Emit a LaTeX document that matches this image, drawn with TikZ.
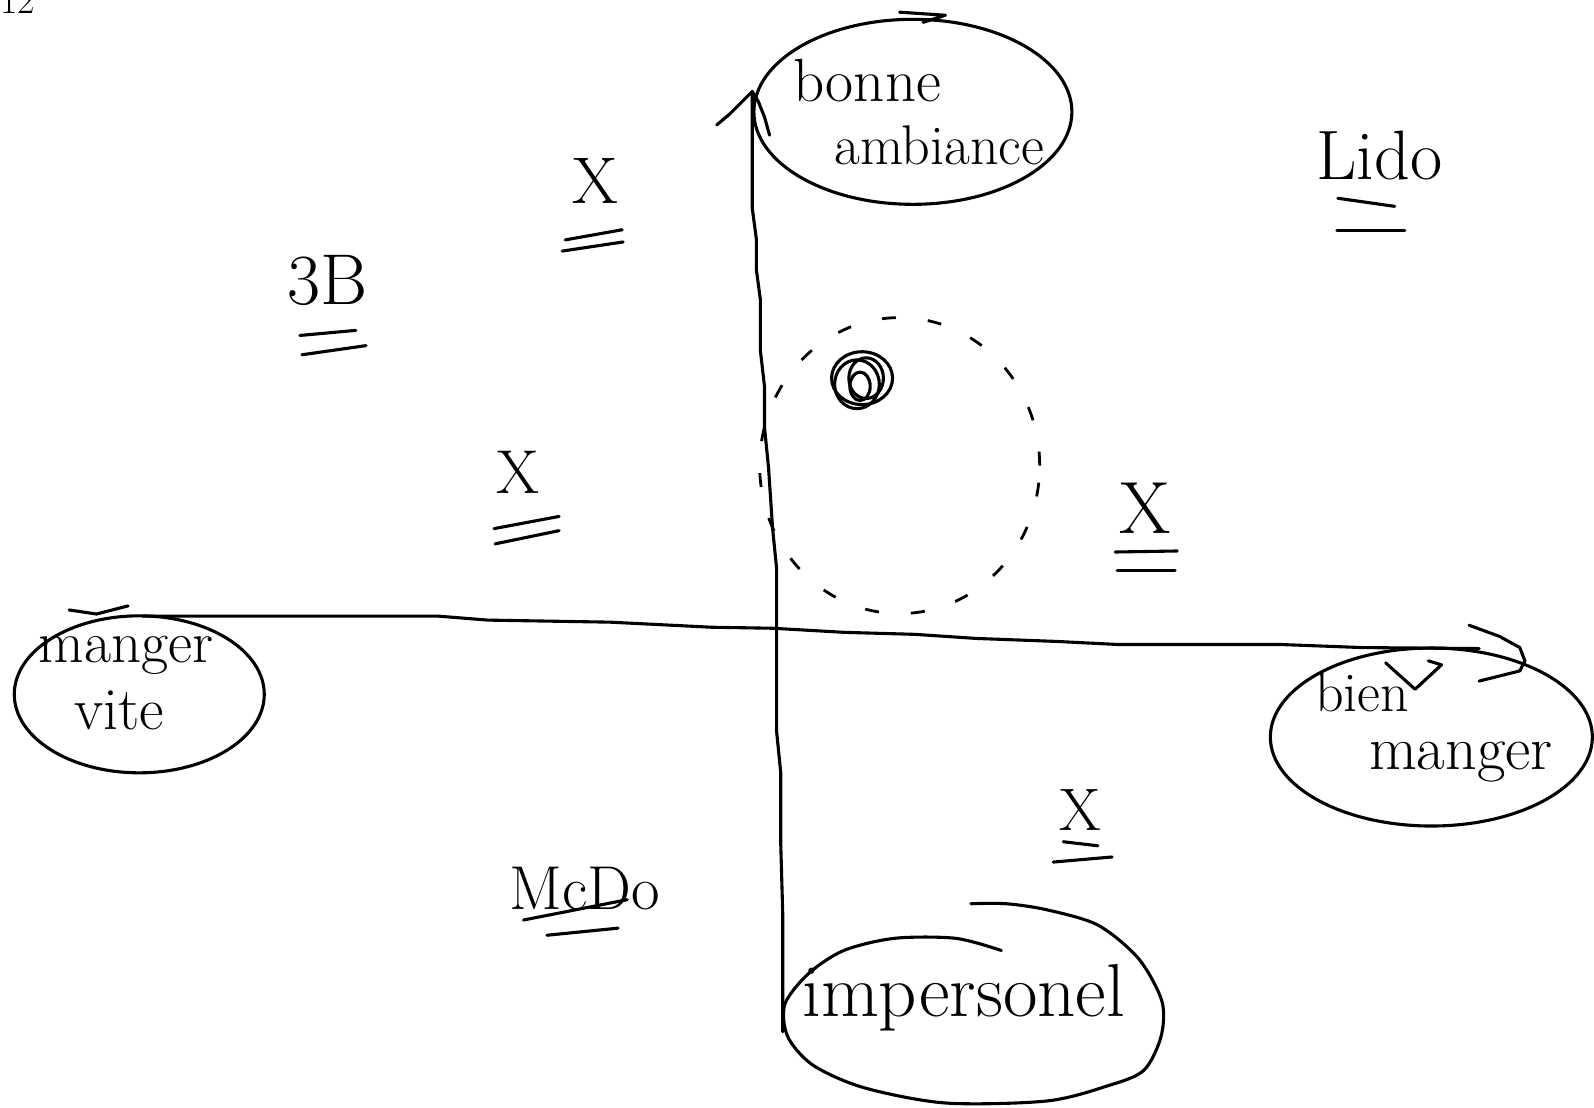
\documentclass[tikz,border=0pt]{standalone}
\usetikzlibrary{shapes.geometric}
\begin{document}
\begin{tikzpicture}[x=1.0166pt,y=-1.0166pt,
  pen/.style={line width=3.1pt,line cap=round,line join=round},
  bubble/.style={draw,pen,ellipse,inner sep=0pt},
  word/.style={inner sep=0pt,anchor=base,font=\fontsize{#1}{#1}\selectfont},
  zonestyle/.style={draw,ellipse,line width=2.8pt,dash pattern=on 14pt off 32pt,inner sep=0pt}]
\useasboundingbox (0,0) rectangle (1568,1089);

% page number, cut off at the top
\node[anchor=south west,inner sep=0pt,font=\fontsize{38}{38}\selectfont] (num) at (0,13) {12};

% bubbles
\node[bubble,minimum width=318pt,minimum height=185pt] (ambE) at (898,110) {};
\node[bubble,minimum width=250pt,minimum height=157pt] (viteE) at (137,683) {};
\node[bubble,minimum width=322pt,minimum height=178pt] (bienE) at (1408,725) {};
\draw[pen] plot[smooth] coordinates {(985,935) (940,923) (880,923) (830,935) (795,958) (772,988) (775,1020) (800,1048) (850,1070) (930,1085) (1030,1083) (1090,1068) (1125,1053) (1142,1020) (1143,985) (1120,943) (1080,910) (1030,895) (990,889) (955,889)};
\coordinate (impE) at (957,1000);

% bubble texts
\node[word=61] (bonne) at (853,100) {bonne};
\node[word=56] (ambiance) at (924,162) {ambiance};
\node[word=59] (manger1) at (124,652) {manger};
\node[word=60] (vite) at (117,718) {vite};
\node[word=56] (bien) at (1340,700) {bien};
\node[word=62] (manger2) at (1437,757) {manger};
\node[word=75] (imp) at (948,1000) {impersonel};

% stray strokes of the sketch
\draw[pen] (885,12) -- (930,15) -- (908,22);
\draw[pen] (1363,652) -- (1392,678) -- (1418,654) -- (1405,650);

% axes
\coordinate (vbot) at (770,1015);
\coordinate (vtop) at (740,90);
\draw[pen] (vbot) -- (770,900) -- (768,830) -- (768,760) -- (764,720) -- (764,560) -- (760,520) -- (756,460) -- (752,420) -- (752,380) -- (748,345) -- (748,295) -- (744,265) -- (744,235) -- (740,205) -- (vtop);
\draw[pen] (705,123) -- (718,112) -- (730,100) -- (vtop) -- (746,100) -- (752,115) -- (757,133);

\coordinate (hleft) at (140,606);
\coordinate (hright) at (1455,638);
\draw[pen] (hleft) -- (430,606) -- (480,610) -- (600,612) -- (700,617) -- (760,618) -- (830,622) -- (900,624) -- (960,628) -- (1040,631) -- (1100,634) -- (1260,634) -- (1340,637) -- (hright);
\draw[pen] (68,600) -- (95,604) -- (126,596);
\draw[pen] (1445,615) -- (1475,626) -- (1495,637) -- (1500,650) -- (1495,660) -- (1475,665) -- (1455,670);

% central zone
\node[zonestyle,minimum width=280pt,minimum height=296pt] (zone) at (885,458) {};
\draw[pen] (848,372) ellipse (30 and 26);
\draw[pen] (843,378) ellipse (22 and 24);
\draw[pen] (852,372) ellipse (17 and 20);
\draw[pen] (846,380) ellipse (10 and 14);
\coordinate (mark) at (848,372);

% labels with double underlines
\node[word=72] (b3) at (322,300) {3B};
\draw[pen] (295,330) -- (350,325); \draw[pen] (297,349) -- (360,340);

\node[word=70] (lido) at (1357,177) {Lido};
\draw[pen] (1316,195) -- (1372,203); \draw[pen] (1315,227) -- (1382,227);

\node[word=62] (mcdo) at (575,895) {McDo};
\draw[pen] (515,905) -- (617,885); \draw[pen] (538,920) -- (608,913);

\node[word=66] (x1) at (586,200) {X};
\draw[pen] (556,236) -- (612,226); \draw[pen] (553,247) -- (613,238);

\node[word=62] (x2) at (510,485) {X};
\draw[pen] (486,520) -- (550,508); \draw[pen] (487,535) -- (550,522);

\node[word=74] (x3) at (1126,525) {X};
\draw[pen] (1097,543) -- (1158,542); \draw[pen] (1099,561) -- (1156,561);

\node[word=60] (x4) at (1063,817) {X};
\draw[pen] (1046,828) -- (1080,832); \draw[pen] (1036,848) -- (1094,843);
\end{tikzpicture}
\end{document}
